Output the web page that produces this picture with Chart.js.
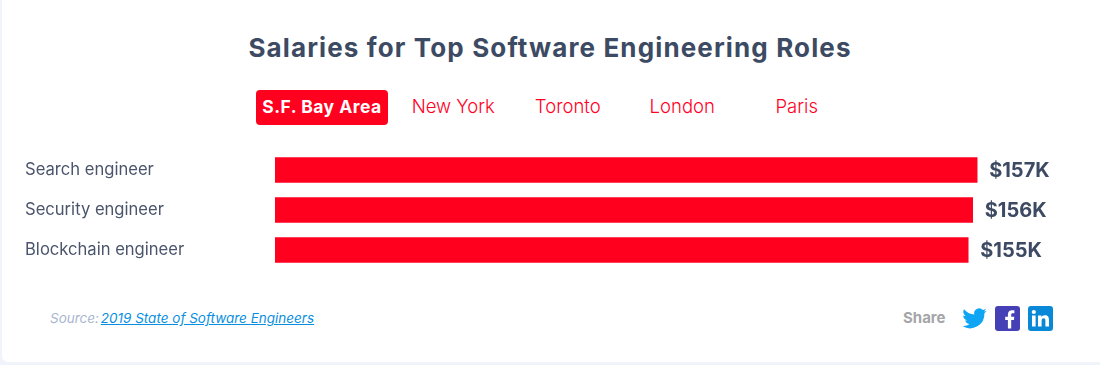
<!DOCTYPE html>
<html>
<head>
<meta charset="utf-8">
<title>Salaries for Top Software Engineering Roles</title>
<script src="https://cdn.jsdelivr.net/npm/chart.js@4/dist/chart.umd.js"></script>
<style>
html, body { margin: 0; padding: 0; background: #f1f3fb; }
body { width: 1100px; height: 365px; overflow: hidden; position: relative; font-family: Inter, "Open Sans", sans-serif; }
#card { position: absolute; left: 2px; top: -10px; width: 1110px; height: 372px; background: #fff; border-radius: 6px; }
#title { position: absolute; left: 0; top: 31px; width: 1100px; text-align: center; font-size: 26px; line-height: 34px; font-weight: 700; color: #3d4a63; letter-spacing: 1.13px; }
#tabs { position: absolute; left: 256px; top: 88px; display: flex; }
#tabs div { width: 114.5px; height: 35px; display: flex; justify-content: center; align-items: center; flex: none; font-size: 18.5px; font-weight: 300; color: #ff001f; white-space: nowrap; }
#tabs div.active { width: 140px; justify-content: flex-start; }
#tabs div.active span { background: #ff001f; color: #fff; font-weight: 700; border-radius: 4px; font-size: 17.5px; letter-spacing: 0.5px; width: 132px; height: 35px; line-height: 33px; margin-top: 4px; text-align: center; display: block; flex: none; }
#chartWrap { position: absolute; left: 0; top: 149.5px; width: 1080px; height: 120px; }
#source { position: absolute; left: 50px; top: 310px; font-size: 13.5px; line-height: 17px; font-style: italic; color: #a9b6cf; }
#source a { color: #0a8fe0; text-decoration: underline; margin-left: -2px; }
#share { position: absolute; left: 903px; top: 309px; font-size: 15px; line-height: 18px; font-weight: 700; color: #a5a5a8; }
.icon { position: absolute; top: 306px; width: 25px; height: 25px; }
</style>
</head>
<body>
<div id="card"></div>
<div id="title">Salaries for Top Software Engineering Roles</div>
<div id="tabs"></div>
<div id="chartWrap"><canvas id="salaryChart"></canvas></div>
<div id="source">Source: <a href="#">2019 State of Software Engineers</a></div>
<div id="share">Share</div>
<svg class="icon" style="left:962px" viewBox="0 0 24 24"><path fill="#0ea5f5" d="M23.6 4.6c-.9.4-1.8.6-2.7.7 1-.6 1.7-1.5 2.1-2.6-.9.5-1.9.9-3 1.1a4.8 4.8 0 0 0-8.2 4.4C7.8 8 4.300 6.100 1.900 3.200c-1.300 2.200-.6 5 1.500 6.400-.8 0-1.500-.2-2.200-.6 0 2.300 1.600 4.300 3.900 4.800-.7.2-1.400.2-2.200.1.600 1.900 2.400 3.300 4.500 3.300A9.700 9.700 0 0 1 .4 19.200a13.700 13.700 0 0 0 21.100-12.200c.9-.7 1.600-1.500 2.100-2.400z"/></svg>
<svg class="icon" style="left:995px" viewBox="0 0 25 25"><rect width="25" height="25" rx="3" fill="#4540b5"/><path fill="#fff" d="M16.200 22.500v-8.500h2.700l.4-3.200h-3.100V8.800c0-.9.300-1.500 1.600-1.500h1.600V4.400c-.3 0-1.300-.1-2.400-.1-2.400 0-4.100 1.500-4.100 4.200v2.300h-2.700V14h2.700v8.500z"/></svg>
<svg class="icon" style="left:1028px" viewBox="0 0 25 25"><rect width="25" height="25" rx="3" fill="#0a88d8"/><g fill="#fff"><rect x="4" y="9.500" width="3.600" height="11"/><circle cx="5.800" cy="6" r="2.100"/><path d="M10 9.500h3.400V11c.6-1 1.800-1.800 3.500-1.800 3.200 0 4.100 2 4.100 5v6.300h-3.600v-5.600c0-1.500-.3-2.700-1.800-2.700s-2 1.200-2 2.700v5.600H10z"/></g></svg>

<script>
// Data
var cities = ['S.F. Bay Area', 'New York', 'Toronto', 'London', 'Paris'];
var roles = ['Search engineer', 'Security engineer', 'Blockchain engineer'];
var salaries = [157, 156, 155];

// City tabs
cities.forEach(function (city, i) {
    var tab = document.createElement('div');
    var label = document.createElement('span');
    label.textContent = city;
    if (i == 0) {
        tab.className = 'active';
    }
    tab.appendChild(label);
    document.getElementById('tabs').appendChild(tab);
});

// Salary labels at the end of each bar
var barValues = {
    id: 'barValues',
    afterDatasetsDraw: function (chart) {
        var ctx = chart.ctx;
        ctx.save();
        ctx.font = '700 20px Inter, "Open Sans", sans-serif';
        ctx.fillStyle = '#3d4a63';
        ctx.textBaseline = 'middle';
        chart.getDatasetMeta(0).data.forEach(function (bar, i) {
            ctx.fillText('$' + salaries[i] + 'K', bar.x + 12, bar.y + 1);
        });
        ctx.restore();
    }
};

// Chart
var chartCtx = document.getElementById('salaryChart').getContext('2d');
var salaryChart = new Chart(chartCtx, {
    type: 'bar',
    data: {
        labels: roles,
        datasets: [{
            label: 'Salary',
            data: salaries,
            backgroundColor: '#ff001f',
            barThickness: 25
        }]
    },
    options: {
        indexAxis: 'y',
        responsive: true,
        maintainAspectRatio: false,
        animation: false,
        layout: { padding: { left: 25 } },
        plugins: {
            legend: { display: false },
            tooltip: { enabled: false }
        },
        scales: {
            x: {
                display: false,
                min: 0,
                max: 180
            },
            y: {
                // fixed label column, and no extra room above and below the rows
                afterFit: function (scale) {
                    scale.width = 250;
                    scale.paddingTop = 0;
                    scale.paddingBottom = 0;
                },
                grid: { display: false },
                border: { display: false },
                ticks: {
                    crossAlign: 'far',
                    color: '#4a556c',
                    font: { family: 'Inter, "Open Sans", sans-serif', size: 16.6 }
                }
            }
        }
    },
    plugins: [barValues]
});
</script>
</body>
</html>
